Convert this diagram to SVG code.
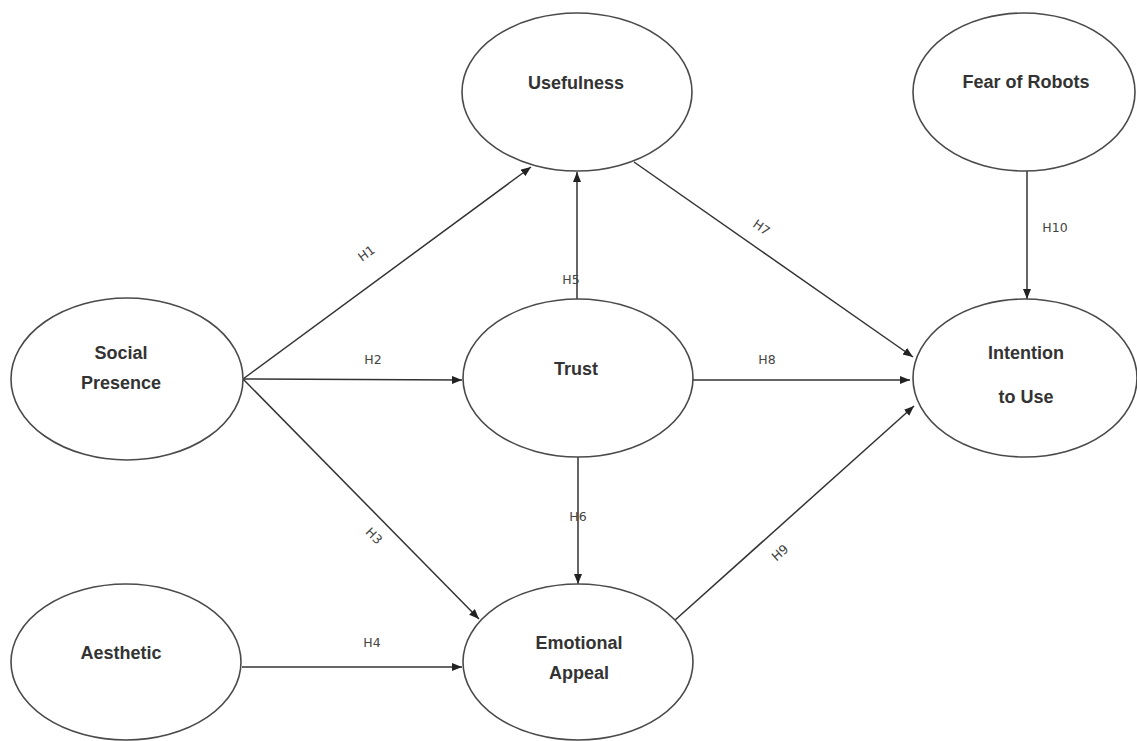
<svg xmlns="http://www.w3.org/2000/svg" width="1137" height="741" viewBox="0 0 1137 741">
<style>
.node ellipse{fill:#fff;stroke:#4a4a4a;stroke-width:1.6}
.node text{font-family:"Liberation Sans",Arial,sans-serif;font-weight:bold;font-size:18px;fill:#333;text-anchor:middle}
.edge line{stroke:#333;stroke-width:1.5;marker-end:url(#arr)}
.lbl{font-family:"DejaVu Sans",Verdana,sans-serif;font-size:12.5px;fill:#444;text-anchor:middle}
</style>
<defs>
<marker id="arr" markerUnits="userSpaceOnUse" markerWidth="11" markerHeight="9" refX="10" refY="4" orient="auto">
<path d="M0,0 L10,4 L0,8 z" fill="#222"/>
</marker>
</defs>
<rect width="1137" height="741" fill="#fff"/>
<g id="edges" class="edge">
<line x1="243" y1="379" x2="531" y2="167"/>
<line x1="243" y1="379" x2="462" y2="380"/>
<line x1="243" y1="379" x2="479" y2="619"/>
<line x1="242" y1="667" x2="462" y2="667"/>
<line x1="577" y1="299" x2="577" y2="172"/>
<line x1="578" y1="457" x2="578" y2="584"/>
<line x1="634" y1="162" x2="913" y2="357"/>
<line x1="693" y1="380" x2="910" y2="380"/>
<line x1="674" y1="621" x2="914" y2="406"/>
<line x1="1027" y1="171" x2="1027" y2="299"/>
</g>
<g id="edge-labels">
<text class="lbl" transform="translate(369,257) rotate(-36)">H1</text>
<text class="lbl" x="373" y="364">H2</text>
<text class="lbl" transform="translate(371,539) rotate(45)">H3</text>
<text class="lbl" x="372" y="647">H4</text>
<text class="lbl" x="571" y="284">H5</text>
<text class="lbl" x="578" y="521">H6</text>
<text class="lbl" transform="translate(759,231) rotate(35)">H7</text>
<text class="lbl" x="767" y="364">H8</text>
<text class="lbl" transform="translate(783,556) rotate(-42)">H9</text>
<text class="lbl" x="1055" y="232">H10</text>
</g>
<g id="usefulness" class="node"><ellipse cx="577" cy="92" rx="115" ry="79"/><text x="576" y="89">Usefulness</text></g>
<g id="fear-of-robots" class="node"><ellipse cx="1024" cy="92" rx="111" ry="79"/><text x="1026" y="88">Fear of Robots</text></g>
<g id="social-presence" class="node"><ellipse cx="127" cy="379" rx="116" ry="81"/><text x="121" y="359">Social</text><text x="121" y="389">Presence</text></g>
<g id="trust" class="node"><ellipse cx="578" cy="378" rx="115" ry="79"/><text x="576" y="375">Trust</text></g>
<g id="intention-to-use" class="node"><ellipse cx="1025" cy="378" rx="112" ry="79"/><text x="1026" y="359">Intention</text><text x="1026" y="403">to Use</text></g>
<g id="aesthetic" class="node"><ellipse cx="126" cy="662" rx="115" ry="78"/><text x="121" y="659">Aesthetic</text></g>
<g id="emotional-appeal" class="node"><ellipse cx="578" cy="662" rx="115" ry="78"/><text x="579" y="649">Emotional</text><text x="579" y="679">Appeal</text></g>
</svg>
